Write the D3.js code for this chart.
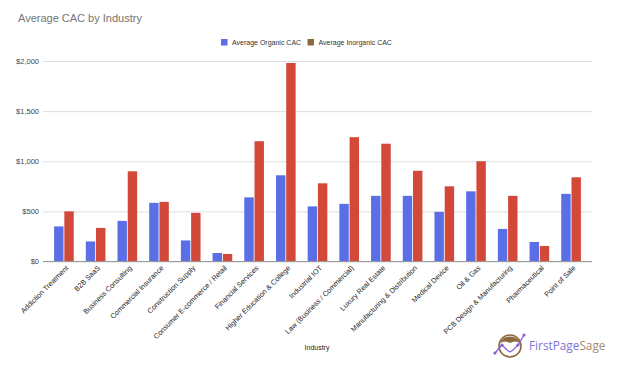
<!DOCTYPE html>
<html>
<head>
<meta charset="utf-8">
<script src="https://cdn.jsdelivr.net/npm/d3@7"></script>
<style>
  body { margin: 0; background: #fff; }
  svg { display: block; font-family: Arial, "Liberation Sans", sans-serif; }
</style>
</head>
<body>
<svg width="622" height="374"></svg>
<script>
// industries on the x axis
const industries = [
  "Addiction Treatment", "B2B SaaS", "Business Consulting", "Commercial Insurance",
  "Construction Supply", "Consumer E-commerce / Retail", "Financial Services",
  "Higher Education & College", "Industrial IOT", "Law (Business / Commercial)",
  "Luxury Real Estate", "Manufacturing & Distribution", "Medical Device", "Oil & Gas",
  "PCB Design & Manufacturing", "Pharmaceutical", "Point of Sale"
];
// values, in dollars
const organic = [350, 200, 405, 585, 210, 85, 640, 860, 550, 575, 655, 655, 495, 700, 325, 195, 675];
const inorganic = [500, 335, 900, 595, 485, 75, 1200, 1980, 780, 1240, 1175, 905, 750, 1000, 655, 155, 840];
const seriesNames = ["Average Organic CAC", "Average Inorganic CAC"];
const yTicks = [0, 500, 1000, 1500, 2000];

const colors = ["#5a6ee6", "#d2493a"];
const legendColors = ["#5a6ee6", "#8d6a3c"];

const svg = d3.select("svg");
const plotTop = 61, plotBottom = 261.5, plotLeft = 43, plotRight = 592;

const x = d3.scaleBand()
  .domain(industries)
  .range([plotLeft, plotRight])
  .paddingInner(0.38)
  .paddingOuter(0.35);

const x1 = d3.scaleBand()
  .domain([0, 1])
  .range([0, x.bandwidth()])
  .paddingInner(0.08);

const y = d3.scaleLinear().domain([0, 2000]).range([plotBottom, plotTop]);

// title
svg.append("text")
  .attr("x", 18).attr("y", 22)
  .attr("font-size", 11)
  .attr("fill", "#757575")
  .text("Average CAC by Industry");

// gridlines + y labels
const yAxis = d3.axisLeft(y)
  .tickValues(yTicks)
  .tickSize(-(plotRight - plotLeft))
  .tickPadding(4)
  .tickFormat(d => "$" + d3.format(",")(d));

const gy = svg.append("g")
  .attr("transform", `translate(${plotLeft},0)`)
  .call(yAxis);
gy.select(".domain").remove();
gy.selectAll("line").attr("stroke", "#dedede");
gy.selectAll("text").attr("font-size", 7.5).attr("fill", "#444");

// bars
const groups = svg.append("g")
  .selectAll("g")
  .data(industries)
  .join("g")
  .attr("transform", d => `translate(${x(d)},0)`);

groups.selectAll("rect")
  .data((d, i) => [organic[i], inorganic[i]])
  .join("rect")
  .attr("x", (d, j) => x1(j))
  .attr("width", x1.bandwidth())
  .attr("y", d => y(d))
  .attr("height", d => y(0) - y(d))
  .attr("fill", (d, j) => colors[j]);

// baseline
svg.append("line")
  .attr("x1", plotLeft).attr("x2", plotRight)
  .attr("y1", y(0)).attr("y2", y(0))
  .attr("stroke", "#999").attr("stroke-width", 1);

// x labels rotated
const xAxis = d3.axisBottom(x).tickSize(0).tickPadding(0);
const gx = svg.append("g")
  .attr("transform", `translate(0,${plotBottom})`)
  .call(xAxis);
gx.select(".domain").remove();
gx.selectAll("text")
  .attr("font-size", 7.2)
  .attr("fill", "#222")
  .attr("text-anchor", "end")
  .attr("dy", 0)
  .attr("transform", "translate(5,7) rotate(-45)");

// axis title
svg.append("text")
  .attr("x", 317).attr("y", 350)
  .attr("text-anchor", "middle")
  .attr("font-size", 7)
  .attr("fill", "#222")
  .text("Industry");

// legend
const legendX = [221, 307.5];
const lg = svg.append("g");
seriesNames.forEach((name, i) => {
  lg.append("rect")
    .attr("x", legendX[i]).attr("y", 39)
    .attr("width", 6.5).attr("height", 6.5)
    .attr("fill", legendColors[i]);
  lg.append("text")
    .attr("x", legendX[i] + 11).attr("y", 45)
    .attr("font-size", 7)
    .attr("fill", "#333")
    .text(name);
});

// logo
const logo = svg.append("g").attr("transform", "translate(510,346)");
logo.append("circle").attr("r", 11).attr("fill", "#fff")
  .attr("stroke", "#8d6a3c").attr("stroke-width", 1.6);
logo.append("path")
  .attr("d", "M-10,-3 A11,11 0 0 1 10,-3 Q5,-6 0,-3 Q-5,-6 -10,-3Z")
  .attr("fill", "#8d6a3c");
logo.append("path")
  .attr("d", "M-15,7 L-8,-1 L-3,4 L0,6 L3,4 L8,-1 L14,-11")
  .attr("fill", "none").attr("stroke", "#8a5fd6").attr("stroke-width", 1.3);
[[-15, 7], [-8, -1], [8, -1], [14, -11]].forEach(p => {
  logo.append("circle").attr("cx", p[0]).attr("cy", p[1]).attr("r", 1.6).attr("fill", "#8a5fd6");
});
const lt = svg.append("text")
  .attr("x", 529).attr("y", 350)
  .attr("font-size", 11.8)
  .attr("font-family", "'Open Sans', Arial, sans-serif");
lt.append("tspan").attr("fill", "#7b74d8").text("FirstPage");
lt.append("tspan").attr("fill", "#a7896a").text("Sage");
</script>
</body>
</html>
